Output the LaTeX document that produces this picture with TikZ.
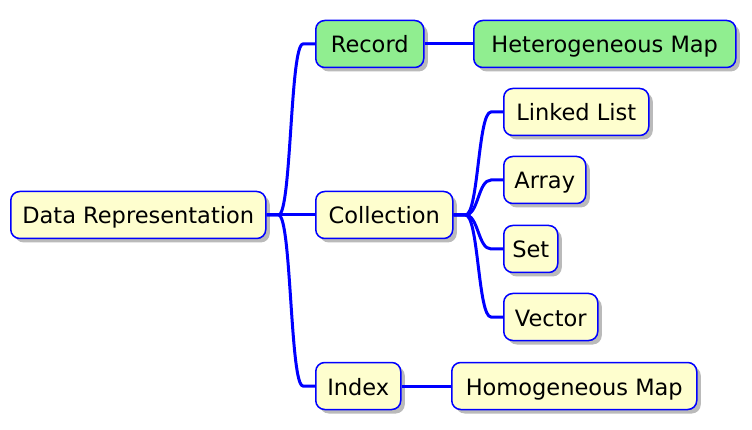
\documentclass[tikz,border=0pt]{standalone}
\usepackage{fontspec}
\setmainfont{DejaVu Sans}
\usetikzlibrary{shadows}

\definecolor{topicyellow}{HTML}{FEFECE}
\definecolor{topicgreen}{HTML}{90EE90}

\tikzset{
  topic/.style={draw=blue, line width=1.5pt, rounded corners=9pt, anchor=west,
    minimum height=47pt, inner xsep=0pt, text height=19pt, text depth=1pt,
    font=\fontsize{22.5}{27}\selectfont,
    drop shadow={shadow xshift=4pt, shadow yshift=-4pt, opacity=0.45, fill=black!60}},
  branch/.style={to path={-- ++(12,0) .. controls +(13,0) and +(-13,0) .. ($(\tikztotarget)+(-12,0)$) -- (\tikztotarget)}},
}
\usetikzlibrary{calc}

\begin{document}
\begin{tikzpicture}[x=1pt, y=-1pt]
        \useasboundingbox (0,0) rectangle (752,430);
        \foreach \nm/\x/\y/\w/\col/\txt in {dr/10/215/255/topicyellow/Data Representation,
            rec/315/44/108/topicgreen/Record, het/473/44/262/topicgreen/Heterogeneous Map,
            col/315/215/137/topicyellow/Collection, ll/503/112/145/topicyellow/Linked List,
            arr/503/180/82/topicyellow/Array, set/503/249/54/topicyellow/Set,
            vec/503/317/94/topicyellow/Vector, idx/315/386/85/topicyellow/Index,
            hom/451/386/245/topicyellow/Homogeneous Map}{
            \node[topic, fill=\col, minimum width=\w] (\nm) at (\x,\y) {\txt};
        }
        \foreach \a/\b in {dr/rec, dr/col, dr/idx, rec/het, col/ll, col/arr, col/set, col/vec, idx/hom}{
            \draw[blue, line width=3pt] (\a.east) to[branch] (\b.west);
        }
    \end{tikzpicture}
\end{document}
